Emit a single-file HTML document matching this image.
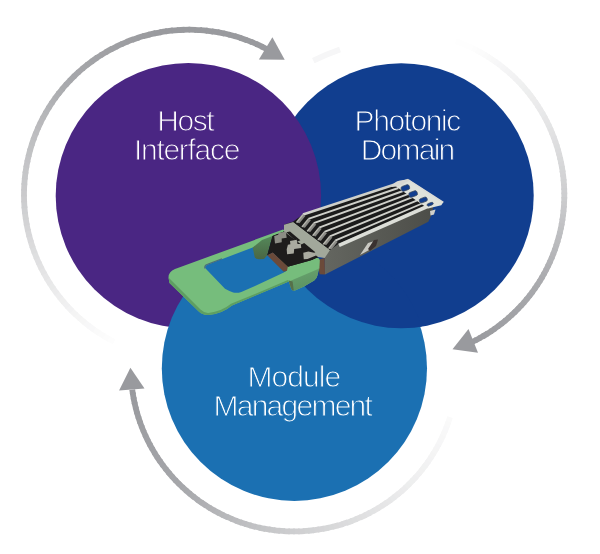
<!DOCTYPE html>
<html><head><meta charset="utf-8"><style>
html,body{margin:0;padding:0;background:#fff;}
svg{display:block;}
text{font-family:"Liberation Sans",sans-serif;fill:#fff;}
</style></head><body>
<svg width="600" height="554" viewBox="0 0 600 554">
<rect width="600" height="554" fill="#fff"/>
<g fill="none" stroke-width="5.8" stroke-linecap="butt">
<path d="M114.09,341.72 A165,165 0 0 1 107.47,338.15" stroke="rgb(253, 253, 253)"/>
<path d="M108.98,339.00 A165,165 0 0 1 102.49,335.20" stroke="rgb(252, 252, 252)"/>
<path d="M103.96,336.10 A165,165 0 0 1 97.61,332.08" stroke="rgb(251, 251, 251)"/>
<path d="M99.05,333.03 A165,165 0 0 1 92.85,328.79" stroke="rgb(250, 250, 250)"/>
<path d="M94.26,329.79 A165,165 0 0 1 88.20,325.33" stroke="rgb(248, 248, 249)"/>
<path d="M89.57,326.38 A165,165 0 0 1 83.68,321.71" stroke="rgb(247, 247, 248)"/>
<path d="M85.01,322.81 A165,165 0 0 1 79.28,317.94" stroke="rgb(246, 246, 246)"/>
<path d="M80.58,319.08 A165,165 0 0 1 75.03,314.01" stroke="rgb(245, 245, 245)"/>
<path d="M76.28,315.20 A165,165 0 0 1 70.91,309.94" stroke="rgb(244, 244, 244)"/>
<path d="M72.12,311.17 A165,165 0 0 1 66.94,305.72" stroke="rgb(242, 242, 243)"/>
<path d="M68.11,307.00 A165,165 0 0 1 63.12,301.37" stroke="rgb(240, 240, 241)"/>
<path d="M64.24,302.68 A165,165 0 0 1 59.45,296.89" stroke="rgb(239, 239, 239)"/>
<path d="M60.53,298.24 A165,165 0 0 1 55.95,292.28" stroke="rgb(237, 237, 238)"/>
<path d="M56.98,293.67 A165,165 0 0 1 52.60,287.55" stroke="rgb(235, 235, 236)"/>
<path d="M53.58,288.97 A165,165 0 0 1 49.43,282.71" stroke="rgb(233, 234, 234)"/>
<path d="M50.36,284.16 A165,165 0 0 1 46.43,277.75" stroke="rgb(232, 232, 233)"/>
<path d="M47.30,279.24 A165,165 0 0 1 43.60,272.70" stroke="rgb(230, 230, 231)"/>
<path d="M44.42,274.22 A165,165 0 0 1 40.95,267.55" stroke="rgb(228, 228, 229)"/>
<path d="M41.72,269.09 A165,165 0 0 1 38.49,262.31" stroke="rgb(226, 226, 227)"/>
<path d="M39.20,263.88 A165,165 0 0 1 36.21,256.98" stroke="rgb(224, 224, 226)"/>
<path d="M36.87,258.58 A165,165 0 0 1 34.12,251.58" stroke="rgb(222, 223, 224)"/>
<path d="M34.72,253.20 A165,165 0 0 1 32.21,246.11" stroke="rgb(220, 221, 222)"/>
<path d="M32.76,247.75 A165,165 0 0 1 30.51,240.58" stroke="rgb(219, 219, 220)"/>
<path d="M31.00,242.24 A165,165 0 0 1 28.99,234.99" stroke="rgb(217, 217, 219)"/>
<path d="M29.43,236.66 A165,165 0 0 1 27.68,229.35" stroke="rgb(215, 215, 217)"/>
<path d="M28.05,231.04 A165,165 0 0 1 26.56,223.67" stroke="rgb(213, 213, 215)"/>
<path d="M26.87,225.37 A165,165 0 0 1 25.65,217.95" stroke="rgb(211, 211, 213)"/>
<path d="M25.90,219.66 A165,165 0 0 1 24.93,212.20" stroke="rgb(209, 210, 211)"/>
<path d="M25.12,213.92 A165,165 0 0 1 24.42,206.43" stroke="rgb(207, 208, 210)"/>
<path d="M24.55,208.16 A165,165 0 0 1 24.11,200.65" stroke="rgb(205, 206, 208)"/>
<path d="M24.18,202.38 A165,165 0 0 1 24.00,194.86" stroke="rgb(204, 204, 206)"/>
<path d="M24.01,196.59 A165,165 0 0 1 24.10,189.07" stroke="rgb(202, 202, 204)"/>
<path d="M24.05,190.80 A165,165 0 0 1 24.40,183.29" stroke="rgb(201, 201, 203)"/>
<path d="M24.28,185.01 A165,165 0 0 1 24.90,177.52" stroke="rgb(199, 200, 202)"/>
<path d="M24.73,179.24 A165,165 0 0 1 25.60,171.77" stroke="rgb(198, 199, 201)"/>
<path d="M25.37,173.48 A165,165 0 0 1 26.51,166.05" stroke="rgb(197, 198, 200)"/>
<path d="M26.22,167.75 A165,165 0 0 1 27.61,160.36" stroke="rgb(196, 196, 199)"/>
<path d="M27.26,162.06 A165,165 0 0 1 28.92,154.72" stroke="rgb(195, 195, 198)"/>
<path d="M28.51,156.40 A165,165 0 0 1 30.42,149.13" stroke="rgb(193, 194, 196)"/>
<path d="M29.95,150.79 A165,165 0 0 1 32.12,143.59" stroke="rgb(192, 193, 195)"/>
<path d="M31.59,145.24 A165,165 0 0 1 34.01,138.12" stroke="rgb(191, 192, 194)"/>
<path d="M33.42,139.74 A165,165 0 0 1 36.09,132.71" stroke="rgb(190, 190, 193)"/>
<path d="M35.45,134.32 A165,165 0 0 1 38.36,127.38" stroke="rgb(188, 188, 191)"/>
<path d="M37.66,128.97 A165,165 0 0 1 40.81,122.14" stroke="rgb(186, 186, 189)"/>
<path d="M40.06,123.69 A165,165 0 0 1 43.45,116.98" stroke="rgb(184, 184, 187)"/>
<path d="M42.64,118.51 A165,165 0 0 1 46.27,111.92" stroke="rgb(182, 183, 185)"/>
<path d="M45.41,113.42 A165,165 0 0 1 49.26,106.97" stroke="rgb(180, 181, 184)"/>
<path d="M48.35,108.43 A165,165 0 0 1 52.42,102.12" stroke="rgb(178, 179, 182)"/>
<path d="M51.46,103.55 A165,165 0 0 1 55.76,97.38" stroke="rgb(176, 177, 180)"/>
<path d="M54.75,98.78 A165,165 0 0 1 59.25,92.76" stroke="rgb(174, 175, 178)"/>
<path d="M58.19,94.13 A165,165 0 0 1 62.91,88.27" stroke="rgb(172, 173, 176)"/>
<path d="M61.80,89.60 A165,165 0 0 1 66.72,83.91" stroke="rgb(170, 171, 174)"/>
<path d="M65.57,85.20 A165,165 0 0 1 70.69,79.69" stroke="rgb(168, 169, 173)"/>
<path d="M69.49,80.94 A165,165 0 0 1 74.80,75.61" stroke="rgb(166, 167, 171)"/>
<path d="M73.56,76.81 A165,165 0 0 1 79.05,71.68" stroke="rgb(165, 166, 170)"/>
<path d="M77.76,72.83 A165,165 0 0 1 83.43,67.89" stroke="rgb(165, 165, 169)"/>
<path d="M82.11,69.00 A165,165 0 0 1 87.95,64.27" stroke="rgb(164, 165, 168)"/>
<path d="M86.59,65.33 A165,165 0 0 1 92.59,60.80" stroke="rgb(163, 164, 167)"/>
<path d="M91.19,61.82 A165,165 0 0 1 97.34,57.50" stroke="rgb(162, 163, 167)"/>
<path d="M95.91,58.47 A165,165 0 0 1 102.22,54.37" stroke="rgb(161, 162, 166)"/>
<path d="M100.75,55.28 A165,165 0 0 1 107.19,51.41" stroke="rgb(161, 161, 165)"/>
<path d="M105.70,52.27 A165,165 0 0 1 112.27,48.62" stroke="rgb(160, 161, 164)"/>
<path d="M110.75,49.44 A165,165 0 0 1 117.45,46.02" stroke="rgb(159, 160, 164)"/>
<path d="M115.89,46.78 A165,165 0 0 1 122.71,43.60" stroke="rgb(158, 159, 163)"/>
<path d="M121.13,44.31 A165,165 0 0 1 128.05,41.37" stroke="rgb(157, 158, 162)"/>
<path d="M126.45,42.02 A165,165 0 0 1 133.47,39.33" stroke="rgb(157, 157, 161)"/>
<path d="M131.85,39.92 A165,165 0 0 1 138.96,37.47" stroke="rgb(156, 157, 161)"/>
<path d="M137.31,38.00 A165,165 0 0 1 144.50,35.81" stroke="rgb(155, 156, 160)"/>
<path d="M142.84,36.29 A165,165 0 0 1 150.11,34.35" stroke="rgb(155, 156, 159)"/>
<path d="M148.43,34.77 A165,165 0 0 1 155.76,33.08" stroke="rgb(154, 155, 159)"/>
<path d="M154.07,33.44 A165,165 0 0 1 161.45,32.02" stroke="rgb(153, 154, 158)"/>
<path d="M159.75,32.31 A165,165 0 0 1 167.18,31.15" stroke="rgb(153, 154, 158)"/>
<path d="M165.47,31.39 A165,165 0 0 1 172.93,30.48" stroke="rgb(153, 154, 158)"/>
<path d="M171.21,30.66 A165,165 0 0 1 178.70,30.02" stroke="rgb(153, 154, 158)"/>
<path d="M176.98,30.14 A165,165 0 0 1 184.49,29.76" stroke="rgb(153, 154, 158)"/>
<path d="M182.76,29.82 A165,165 0 0 1 190.28,29.70" stroke="rgb(153, 154, 158)"/>
<path d="M188.55,29.70 A165,165 0 0 1 196.07,29.85" stroke="rgb(153, 154, 158)"/>
<path d="M194.34,29.79 A165,165 0 0 1 201.85,30.20" stroke="rgb(153, 154, 158)"/>
<path d="M200.13,30.08 A165,165 0 0 1 207.61,30.75" stroke="rgb(153, 154, 158)"/>
<path d="M205.90,30.57 A165,165 0 0 1 213.36,31.51" stroke="rgb(153, 154, 158)"/>
<path d="M211.65,31.26 A165,165 0 0 1 219.07,32.46" stroke="rgb(153, 154, 158)"/>
<path d="M217.37,32.16 A165,165 0 0 1 224.74,33.62" stroke="rgb(153, 154, 158)"/>
<path d="M223.05,33.25 A165,165 0 0 1 230.37,34.97" stroke="rgb(153, 154, 158)"/>
<path d="M228.70,34.55 A165,165 0 0 1 235.95,36.52" stroke="rgb(153, 154, 158)"/>
<path d="M234.30,36.04 A165,165 0 0 1 241.48,38.27" stroke="rgb(153, 154, 158)"/>
<path d="M239.84,37.73 A165,165 0 0 1 246.93,40.21" stroke="rgb(153, 154, 158)"/>
<path d="M245.31,39.61 A165,165 0 0 1 252.32,42.33" stroke="rgb(153, 154, 158)"/>
<path d="M250.72,41.68 A165,165 0 0 1 257.63,44.65" stroke="rgb(153, 154, 158)"/>
<path d="M256.05,43.94 A165,165 0 0 1 262.85,47.15" stroke="rgb(153, 154, 158)"/>
<path d="M261.30,46.38 A165,165 0 0 1 266.46,49.01" stroke="rgb(153, 154, 158)"/>
<path d="M443.27,37.26 A163.3,163.3 0 0 1 449.14,38.96" stroke="rgb(255, 255, 255)"/>
<path d="M447.50,38.46 A163.3,163.3 0 0 1 453.33,40.31" stroke="rgb(255, 255, 255)"/>
<path d="M451.70,39.77 A163.3,163.3 0 0 1 457.48,41.78" stroke="rgb(255, 255, 255)"/>
<path d="M455.87,41.19 A163.3,163.3 0 0 1 461.59,43.35" stroke="rgb(254, 254, 254)"/>
<path d="M459.99,42.73 A163.3,163.3 0 0 1 465.65,45.04" stroke="rgb(254, 254, 254)"/>
<path d="M464.08,44.37 A163.3,163.3 0 0 1 469.67,46.84" stroke="rgb(254, 254, 254)"/>
<path d="M468.11,46.13 A163.3,163.3 0 0 1 473.64,48.74" stroke="rgb(254, 254, 254)"/>
<path d="M472.10,47.99 A163.3,163.3 0 0 1 477.55,50.76" stroke="rgb(253, 253, 253)"/>
<path d="M476.04,49.96 A163.3,163.3 0 0 1 481.41,52.87" stroke="rgb(252, 252, 252)"/>
<path d="M479.92,52.04 A163.3,163.3 0 0 1 485.21,55.09" stroke="rgb(251, 251, 251)"/>
<path d="M483.74,54.22 A163.3,163.3 0 0 1 488.95,57.41" stroke="rgb(250, 250, 250)"/>
<path d="M487.51,56.50 A163.3,163.3 0 0 1 492.63,59.83" stroke="rgb(249, 249, 249)"/>
<path d="M491.21,58.88 A163.3,163.3 0 0 1 496.24,62.35" stroke="rgb(248, 248, 248)"/>
<path d="M494.85,61.36 A163.3,163.3 0 0 1 499.78,64.96" stroke="rgb(247, 247, 248)"/>
<path d="M498.41,63.94 A163.3,163.3 0 0 1 503.25,67.67" stroke="rgb(246, 246, 247)"/>
<path d="M501.91,66.61 A163.3,163.3 0 0 1 506.64,70.48" stroke="rgb(245, 245, 246)"/>
<path d="M505.34,69.38 A163.3,163.3 0 0 1 509.96,73.37" stroke="rgb(244, 244, 245)"/>
<path d="M508.68,72.24 A163.3,163.3 0 0 1 513.20,76.35" stroke="rgb(243, 243, 244)"/>
<path d="M511.95,75.18 A163.3,163.3 0 0 1 516.36,79.42" stroke="rgb(242, 242, 243)"/>
<path d="M515.14,78.22 A163.3,163.3 0 0 1 519.43,82.57" stroke="rgb(241, 241, 242)"/>
<path d="M518.25,81.33 A163.3,163.3 0 0 1 522.42,85.80" stroke="rgb(240, 241, 241)"/>
<path d="M521.27,84.54 A163.3,163.3 0 0 1 525.32,89.11" stroke="rgb(239, 240, 240)"/>
<path d="M524.20,87.82 A163.3,163.3 0 0 1 528.13,92.50" stroke="rgb(238, 239, 239)"/>
<path d="M527.05,91.18 A163.3,163.3 0 0 1 530.84,95.97" stroke="rgb(237, 238, 238)"/>
<path d="M529.80,94.61 A163.3,163.3 0 0 1 533.47,99.50" stroke="rgb(237, 237, 237)"/>
<path d="M532.46,98.12 A163.3,163.3 0 0 1 535.99,103.11" stroke="rgb(236, 236, 236)"/>
<path d="M535.02,101.70 A163.3,163.3 0 0 1 538.42,106.78" stroke="rgb(235, 235, 236)"/>
<path d="M537.49,105.34 A163.3,163.3 0 0 1 540.75,110.51" stroke="rgb(234, 234, 235)"/>
<path d="M539.85,109.06 A163.3,163.3 0 0 1 542.97,114.31" stroke="rgb(233, 233, 234)"/>
<path d="M542.12,112.83 A163.3,163.3 0 0 1 545.10,118.17" stroke="rgb(231, 232, 233)"/>
<path d="M544.28,116.66 A163.3,163.3 0 0 1 547.11,122.08" stroke="rgb(230, 230, 231)"/>
<path d="M546.34,120.55 A163.3,163.3 0 0 1 549.03,126.04" stroke="rgb(229, 229, 230)"/>
<path d="M548.30,124.50 A163.3,163.3 0 0 1 550.83,130.06" stroke="rgb(227, 228, 229)"/>
<path d="M550.14,128.49 A163.3,163.3 0 0 1 552.53,134.12" stroke="rgb(226, 226, 227)"/>
<path d="M551.88,132.54 A163.3,163.3 0 0 1 554.11,138.23" stroke="rgb(225, 225, 226)"/>
<path d="M553.51,136.63 A163.3,163.3 0 0 1 555.59,142.37" stroke="rgb(223, 223, 225)"/>
<path d="M555.03,140.76 A163.3,163.3 0 0 1 556.95,146.56" stroke="rgb(222, 222, 223)"/>
<path d="M556.43,144.93 A163.3,163.3 0 0 1 558.20,150.78" stroke="rgb(220, 221, 222)"/>
<path d="M557.73,149.14 A163.3,163.3 0 0 1 559.33,155.03" stroke="rgb(219, 219, 221)"/>
<path d="M558.91,153.38 A163.3,163.3 0 0 1 560.35,159.32" stroke="rgb(218, 218, 219)"/>
<path d="M559.97,157.65 A163.3,163.3 0 0 1 561.26,163.62" stroke="rgb(216, 217, 218)"/>
<path d="M560.92,161.95 A163.3,163.3 0 0 1 562.04,167.95" stroke="rgb(215, 215, 217)"/>
<path d="M561.75,166.27 A163.3,163.3 0 0 1 562.72,172.30" stroke="rgb(213, 214, 215)"/>
<path d="M562.47,170.61 A163.3,163.3 0 0 1 563.27,176.67" stroke="rgb(212, 212, 214)"/>
<path d="M563.07,174.97 A163.3,163.3 0 0 1 563.70,181.05" stroke="rgb(211, 211, 213)"/>
<path d="M563.55,179.35 A163.3,163.3 0 0 1 564.02,185.44" stroke="rgb(209, 210, 211)"/>
<path d="M563.91,183.74 A163.3,163.3 0 0 1 564.22,189.84" stroke="rgb(208, 208, 210)"/>
<path d="M564.16,188.13 A163.3,163.3 0 0 1 564.30,194.24" stroke="rgb(206, 207, 209)"/>
<path d="M564.28,192.53 A163.3,163.3 0 0 1 564.26,198.64" stroke="rgb(205, 206, 208)"/>
<path d="M564.29,196.93 A163.3,163.3 0 0 1 564.10,203.04" stroke="rgb(203, 204, 206)"/>
<path d="M564.18,201.33 A163.3,163.3 0 0 1 563.83,207.43" stroke="rgb(202, 202, 204)"/>
<path d="M563.95,205.73 A163.3,163.3 0 0 1 563.43,211.82" stroke="rgb(200, 200, 203)"/>
<path d="M563.60,210.12 A163.3,163.3 0 0 1 562.92,216.19" stroke="rgb(198, 199, 201)"/>
<path d="M563.13,214.49 A163.3,163.3 0 0 1 562.29,220.55" stroke="rgb(196, 197, 199)"/>
<path d="M562.55,218.86 A163.3,163.3 0 0 1 561.54,224.88" stroke="rgb(195, 195, 198)"/>
<path d="M561.85,223.20 A163.3,163.3 0 0 1 560.68,229.20" stroke="rgb(193, 193, 196)"/>
<path d="M561.03,227.53 A163.3,163.3 0 0 1 559.70,233.49" stroke="rgb(191, 192, 194)"/>
<path d="M560.09,231.83 A163.3,163.3 0 0 1 558.60,237.75" stroke="rgb(189, 190, 193)"/>
<path d="M559.04,236.10 A163.3,163.3 0 0 1 557.39,241.99" stroke="rgb(188, 188, 191)"/>
<path d="M557.88,240.35 A163.3,163.3 0 0 1 556.07,246.18" stroke="rgb(186, 187, 189)"/>
<path d="M556.60,244.56 A163.3,163.3 0 0 1 554.64,250.35" stroke="rgb(184, 185, 188)"/>
<path d="M555.21,248.73 A163.3,163.3 0 0 1 553.09,254.47" stroke="rgb(182, 183, 186)"/>
<path d="M553.70,252.87 A163.3,163.3 0 0 1 551.43,258.54" stroke="rgb(181, 181, 184)"/>
<path d="M552.09,256.97 A163.3,163.3 0 0 1 549.66,262.58" stroke="rgb(179, 180, 183)"/>
<path d="M550.36,261.01 A163.3,163.3 0 0 1 547.79,266.56" stroke="rgb(177, 178, 181)"/>
<path d="M548.53,265.02 A163.3,163.3 0 0 1 545.80,270.49" stroke="rgb(175, 176, 179)"/>
<path d="M546.59,268.97 A163.3,163.3 0 0 1 543.72,274.36" stroke="rgb(174, 174, 178)"/>
<path d="M544.54,272.86 A163.3,163.3 0 0 1 541.53,278.18" stroke="rgb(172, 173, 176)"/>
<path d="M542.39,276.70 A163.3,163.3 0 0 1 539.23,281.94" stroke="rgb(171, 171, 175)"/>
<path d="M540.14,280.49 A163.3,163.3 0 0 1 536.84,285.63" stroke="rgb(170, 171, 174)"/>
<path d="M537.78,284.20 A163.3,163.3 0 0 1 534.35,289.26" stroke="rgb(169, 170, 173)"/>
<path d="M535.33,287.86 A163.3,163.3 0 0 1 531.76,292.82" stroke="rgb(168, 169, 172)"/>
<path d="M532.78,291.45 A163.3,163.3 0 0 1 529.08,296.31" stroke="rgb(167, 168, 172)"/>
<path d="M530.13,294.96 A163.3,163.3 0 0 1 526.30,299.72" stroke="rgb(166, 167, 171)"/>
<path d="M527.39,298.41 A163.3,163.3 0 0 1 523.43,303.06" stroke="rgb(166, 167, 170)"/>
<path d="M524.56,301.78 A163.3,163.3 0 0 1 520.47,306.32" stroke="rgb(165, 166, 169)"/>
<path d="M521.63,305.07 A163.3,163.3 0 0 1 517.43,309.50" stroke="rgb(164, 165, 168)"/>
<path d="M518.62,308.28 A163.3,163.3 0 0 1 514.30,312.60" stroke="rgb(163, 164, 168)"/>
<path d="M515.53,311.41 A163.3,163.3 0 0 1 511.09,315.61" stroke="rgb(162, 163, 167)"/>
<path d="M512.35,314.45 A163.3,163.3 0 0 1 507.80,318.53" stroke="rgb(162, 163, 166)"/>
<path d="M509.09,317.41 A163.3,163.3 0 0 1 504.43,321.37" stroke="rgb(161, 162, 165)"/>
<path d="M505.75,320.28 A163.3,163.3 0 0 1 500.99,324.11" stroke="rgb(160, 161, 165)"/>
<path d="M502.33,323.06 A163.3,163.3 0 0 1 497.47,326.76" stroke="rgb(159, 160, 164)"/>
<path d="M498.85,325.74 A163.3,163.3 0 0 1 493.89,329.31" stroke="rgb(158, 159, 163)"/>
<path d="M495.29,328.33 A163.3,163.3 0 0 1 490.23,331.76" stroke="rgb(157, 158, 162)"/>
<path d="M491.66,330.82 A163.3,163.3 0 0 1 486.51,334.12" stroke="rgb(157, 158, 161)"/>
<path d="M487.97,333.22 A163.3,163.3 0 0 1 482.73,336.37" stroke="rgb(156, 157, 161)"/>
<path d="M484.21,335.51 A163.3,163.3 0 0 1 478.89,338.53" stroke="rgb(155, 156, 160)"/>
<path d="M480.39,337.70 A163.3,163.3 0 0 1 475.00,340.57" stroke="rgb(154, 155, 159)"/>
<path d="M476.52,339.79 A163.3,163.3 0 0 1 472.59,341.77" stroke="rgb(153, 154, 158)"/>
<path d="M450.04,417.14 A163.4,163.4 0 0 1 447.92,423.41" stroke="rgb(250, 250, 250)"/>
<path d="M448.49,421.79 A163.4,163.4 0 0 1 446.19,428.00" stroke="rgb(249, 249, 249)"/>
<path d="M446.81,426.40 A163.4,163.4 0 0 1 444.32,432.54" stroke="rgb(248, 248, 249)"/>
<path d="M444.98,430.96 A163.4,163.4 0 0 1 442.31,437.02" stroke="rgb(248, 248, 248)"/>
<path d="M443.02,435.46 A163.4,163.4 0 0 1 440.17,441.43" stroke="rgb(247, 247, 247)"/>
<path d="M440.93,439.90 A163.4,163.4 0 0 1 437.90,445.78" stroke="rgb(246, 246, 247)"/>
<path d="M438.71,444.27 A163.4,163.4 0 0 1 435.50,450.06" stroke="rgb(245, 245, 246)"/>
<path d="M436.35,448.58 A163.4,163.4 0 0 1 432.97,454.27" stroke="rgb(245, 245, 245)"/>
<path d="M433.86,452.81 A163.4,163.4 0 0 1 430.32,458.40" stroke="rgb(244, 244, 244)"/>
<path d="M431.25,456.97 A163.4,163.4 0 0 1 427.54,462.45" stroke="rgb(243, 243, 244)"/>
<path d="M428.52,461.05 A163.4,163.4 0 0 1 424.64,466.41" stroke="rgb(242, 242, 243)"/>
<path d="M425.67,465.04 A163.4,163.4 0 0 1 421.63,470.28" stroke="rgb(241, 242, 242)"/>
<path d="M422.69,468.94 A163.4,163.4 0 0 1 418.50,474.06" stroke="rgb(241, 241, 241)"/>
<path d="M419.60,472.76 A163.4,163.4 0 0 1 415.26,477.75" stroke="rgb(240, 240, 241)"/>
<path d="M416.40,476.48 A163.4,163.4 0 0 1 411.91,481.34" stroke="rgb(239, 239, 240)"/>
<path d="M413.09,480.10 A163.4,163.4 0 0 1 408.45,484.82" stroke="rgb(238, 239, 239)"/>
<path d="M409.67,483.62 A163.4,163.4 0 0 1 404.89,488.20" stroke="rgb(237, 238, 238)"/>
<path d="M406.14,487.03 A163.4,163.4 0 0 1 401.23,491.47" stroke="rgb(236, 236, 237)"/>
<path d="M402.51,490.34 A163.4,163.4 0 0 1 397.47,494.63" stroke="rgb(235, 235, 236)"/>
<path d="M398.79,493.54 A163.4,163.4 0 0 1 393.62,497.67" stroke="rgb(234, 234, 235)"/>
<path d="M394.97,496.62 A163.4,163.4 0 0 1 389.68,500.60" stroke="rgb(232, 233, 234)"/>
<path d="M391.07,499.59 A163.4,163.4 0 0 1 385.66,503.41" stroke="rgb(231, 231, 232)"/>
<path d="M387.07,502.44 A163.4,163.4 0 0 1 381.55,506.09" stroke="rgb(230, 230, 231)"/>
<path d="M382.99,505.17 A163.4,163.4 0 0 1 377.36,508.65" stroke="rgb(229, 229, 230)"/>
<path d="M378.83,507.78 A163.4,163.4 0 0 1 373.10,511.09" stroke="rgb(228, 228, 229)"/>
<path d="M374.59,510.26 A163.4,163.4 0 0 1 368.77,513.39" stroke="rgb(226, 227, 228)"/>
<path d="M370.28,512.61 A163.4,163.4 0 0 1 364.37,515.57" stroke="rgb(225, 225, 227)"/>
<path d="M365.91,514.83 A163.4,163.4 0 0 1 359.90,517.61" stroke="rgb(224, 224, 225)"/>
<path d="M361.46,516.91 A163.4,163.4 0 0 1 355.38,519.51" stroke="rgb(223, 223, 224)"/>
<path d="M356.96,518.87 A163.4,163.4 0 0 1 350.80,521.28" stroke="rgb(221, 222, 223)"/>
<path d="M352.40,520.68 A163.4,163.4 0 0 1 346.17,522.91" stroke="rgb(220, 221, 222)"/>
<path d="M347.79,522.36 A163.4,163.4 0 0 1 341.49,524.41" stroke="rgb(219, 219, 221)"/>
<path d="M343.13,523.90 A163.4,163.4 0 0 1 336.78,525.76" stroke="rgb(218, 218, 220)"/>
<path d="M338.43,525.30 A163.4,163.4 0 0 1 332.02,526.96" stroke="rgb(217, 217, 218)"/>
<path d="M333.68,526.56 A163.4,163.4 0 0 1 327.23,528.03" stroke="rgb(215, 216, 217)"/>
<path d="M328.90,527.67 A163.4,163.4 0 0 1 322.41,528.95" stroke="rgb(214, 215, 216)"/>
<path d="M324.09,528.64 A163.4,163.4 0 0 1 317.56,529.72" stroke="rgb(213, 213, 215)"/>
<path d="M319.25,529.47 A163.4,163.4 0 0 1 312.69,530.35" stroke="rgb(212, 212, 214)"/>
<path d="M314.39,530.15 A163.4,163.4 0 0 1 307.81,530.83" stroke="rgb(210, 211, 213)"/>
<path d="M309.51,530.68 A163.4,163.4 0 0 1 302.91,531.17" stroke="rgb(209, 210, 211)"/>
<path d="M304.62,531.07 A163.4,163.4 0 0 1 298.01,531.36" stroke="rgb(208, 208, 210)"/>
<path d="M299.72,531.31 A163.4,163.4 0 0 1 293.10,531.40" stroke="rgb(207, 207, 209)"/>
<path d="M294.81,531.40 A163.4,163.4 0 0 1 288.19,531.29" stroke="rgb(205, 206, 208)"/>
<path d="M289.90,531.34 A163.4,163.4 0 0 1 283.29,531.04" stroke="rgb(204, 204, 206)"/>
<path d="M285.00,531.14 A163.4,163.4 0 0 1 278.40,530.63" stroke="rgb(202, 203, 205)"/>
<path d="M280.10,530.79 A163.4,163.4 0 0 1 273.52,530.09" stroke="rgb(201, 201, 203)"/>
<path d="M275.22,530.29 A163.4,163.4 0 0 1 268.66,529.39" stroke="rgb(199, 200, 202)"/>
<path d="M270.35,529.65 A163.4,163.4 0 0 1 263.82,528.55" stroke="rgb(198, 198, 200)"/>
<path d="M265.51,528.86 A163.4,163.4 0 0 1 259.02,527.57" stroke="rgb(196, 197, 199)"/>
<path d="M260.69,527.93 A163.4,163.4 0 0 1 254.24,526.44" stroke="rgb(194, 195, 197)"/>
<path d="M255.90,526.85 A163.4,163.4 0 0 1 249.50,525.17" stroke="rgb(193, 193, 196)"/>
<path d="M251.15,525.63 A163.4,163.4 0 0 1 244.80,523.75" stroke="rgb(191, 192, 194)"/>
<path d="M246.43,524.26 A163.4,163.4 0 0 1 240.14,522.20" stroke="rgb(190, 190, 193)"/>
<path d="M241.76,522.76 A163.4,163.4 0 0 1 235.54,520.51" stroke="rgb(188, 189, 191)"/>
<path d="M237.14,521.11 A163.4,163.4 0 0 1 230.98,518.68" stroke="rgb(187, 187, 190)"/>
<path d="M232.56,519.33 A163.4,163.4 0 0 1 226.49,516.71" stroke="rgb(185, 186, 188)"/>
<path d="M228.05,517.41 A163.4,163.4 0 0 1 222.05,514.61" stroke="rgb(183, 184, 187)"/>
<path d="M223.59,515.36 A163.4,163.4 0 0 1 217.68,512.37" stroke="rgb(182, 183, 185)"/>
<path d="M219.19,513.17 A163.4,163.4 0 0 1 213.38,510.01" stroke="rgb(180, 181, 184)"/>
<path d="M214.87,510.85 A163.4,163.4 0 0 1 209.15,507.52" stroke="rgb(179, 179, 182)"/>
<path d="M210.61,508.40 A163.4,163.4 0 0 1 205.00,504.90" stroke="rgb(177, 178, 181)"/>
<path d="M206.43,505.83 A163.4,163.4 0 0 1 200.92,502.16" stroke="rgb(176, 176, 180)"/>
<path d="M202.33,503.13 A163.4,163.4 0 0 1 196.94,499.30" stroke="rgb(174, 175, 178)"/>
<path d="M198.32,500.31 A163.4,163.4 0 0 1 193.04,496.32" stroke="rgb(172, 173, 177)"/>
<path d="M194.39,497.37 A163.4,163.4 0 0 1 189.23,493.22" stroke="rgb(171, 172, 175)"/>
<path d="M190.55,494.31 A163.4,163.4 0 0 1 185.52,490.01" stroke="rgb(169, 170, 174)"/>
<path d="M186.80,491.14 A163.4,163.4 0 0 1 181.90,486.69" stroke="rgb(168, 169, 172)"/>
<path d="M183.15,487.86 A163.4,163.4 0 0 1 178.39,483.27" stroke="rgb(166, 167, 171)"/>
<path d="M179.60,484.47 A163.4,163.4 0 0 1 174.98,479.74" stroke="rgb(165, 166, 169)"/>
<path d="M176.15,480.98 A163.4,163.4 0 0 1 171.67,476.11" stroke="rgb(164, 165, 169)"/>
<path d="M172.81,477.38 A163.4,163.4 0 0 1 168.48,472.38" stroke="rgb(164, 165, 168)"/>
<path d="M169.58,473.69 A163.4,163.4 0 0 1 165.40,468.55" stroke="rgb(163, 164, 168)"/>
<path d="M166.46,469.90 A163.4,163.4 0 0 1 162.44,464.64" stroke="rgb(163, 164, 167)"/>
<path d="M163.46,466.01 A163.4,163.4 0 0 1 159.60,460.64" stroke="rgb(162, 163, 167)"/>
<path d="M160.58,462.04 A163.4,163.4 0 0 1 156.88,456.56" stroke="rgb(162, 162, 166)"/>
<path d="M157.81,457.99 A163.4,163.4 0 0 1 154.28,452.39" stroke="rgb(161, 162, 166)"/>
<path d="M155.17,453.85 A163.4,163.4 0 0 1 151.81,448.15" stroke="rgb(160, 161, 165)"/>
<path d="M152.66,449.64 A163.4,163.4 0 0 1 149.46,443.84" stroke="rgb(160, 161, 165)"/>
<path d="M150.27,445.35 A163.4,163.4 0 0 1 147.25,439.46" stroke="rgb(159, 160, 164)"/>
<path d="M148.01,440.99 A163.4,163.4 0 0 1 145.17,435.01" stroke="rgb(159, 160, 164)"/>
<path d="M145.88,436.57 A163.4,163.4 0 0 1 143.23,430.50" stroke="rgb(158, 159, 163)"/>
<path d="M143.89,432.08 A163.4,163.4 0 0 1 141.42,425.94" stroke="rgb(158, 159, 162)"/>
<path d="M142.03,427.54 A163.4,163.4 0 0 1 139.75,421.33" stroke="rgb(157, 158, 162)"/>
<path d="M140.31,422.94 A163.4,163.4 0 0 1 138.21,416.66" stroke="rgb(157, 158, 161)"/>
<path d="M138.73,418.29 A163.4,163.4 0 0 1 136.82,411.96" stroke="rgb(156, 157, 161)"/>
<path d="M137.29,413.60 A163.4,163.4 0 0 1 135.57,407.21" stroke="rgb(155, 156, 160)"/>
<path d="M135.99,408.87 A163.4,163.4 0 0 1 134.47,402.43" stroke="rgb(155, 156, 160)"/>
<path d="M134.84,404.10 A163.4,163.4 0 0 1 133.51,397.62" stroke="rgb(154, 155, 159)"/>
<path d="M133.83,399.30 A163.4,163.4 0 0 1 132.69,392.78" stroke="rgb(154, 155, 159)"/>
<path d="M132.96,394.47 A163.4,163.4 0 0 1 132.24,389.61" stroke="rgb(153, 154, 158)"/>
<path d="M313.3,60.6 Q326,54.5 340,49.6" stroke="#f6f6f7"/>
</g>
<polygon points="272.4,37.2 258.9,59.4 284.7,59.7" fill="#999a9e"/>
<polygon points="468.5,329.1 452.5,349.2 478,352.7" fill="#999a9e"/>
<polygon points="130.4,367.7 119.1,390.6 144.5,388.6" fill="#999a9e"/>
<circle cx="401.2" cy="195.7" r="132.5" fill="#113e8f"/>
<circle cx="188.4" cy="195.7" r="132.7" fill="#4a2683"/>
<circle cx="294.4" cy="368.3" r="132.6" fill="#1b70b2"/>
<defs><mask id="dm"><rect width="600" height="554" fill="#000"/><circle cx="294.4" cy="368.3" r="134" fill="#fff"/><circle cx="188.4" cy="195.7" r="132.7" fill="#000"/></mask></defs>
<circle cx="401.2" cy="195.7" r="132.5" fill="#113e8f" mask="url(#dm)"/>
<g font-size="30" text-anchor="middle" stroke-width="1.0" opacity="0.999">
<g stroke="#4a2683"><text x="185.9" y="131.1" textLength="57.20" lengthAdjust="spacing">Host</text>
<text x="187.2" y="159.7" textLength="106.40" lengthAdjust="spacing">Interface</text></g>
<g stroke="#113e8f"><text x="407.9" y="131.1" textLength="106.60" lengthAdjust="spacing">Photonic</text>
<text x="408.0" y="159.9" textLength="94.60" lengthAdjust="spacing">Domain</text></g>
<g stroke="#1b70b2"><text x="294.4" y="387.3" textLength="93.70" lengthAdjust="spacing">Module</text>
<text x="293.2" y="415.9" textLength="159.40" lengthAdjust="spacing">Management</text></g>
</g>
<path d="M283,229.5 L175,269 Q168.5,271.5 168.5,277.5 L169.5,283 L198.5,311.3 Q203,315.5 208.5,315 Q222,313.8 232,305.5 L255,295.8 L288.9,281.5 L291.3,289 Q293,291.2 295.5,290.3 L304,286.5 L314.2,280.5 Q316.8,278.5 317.4,275.5 L319.8,260.6 Q319.5,258.5 317.3,258.1 L300,240 Z" fill="#76bd7c"/>
<path d="M168.5,277.5 L169.5,283 L198.5,311.3 Q203,315.5 208.5,315 Q222,313.8 232,305.5 L255,295.8 L288.9,281.5 L288.5,279.8 L255,293.9 L231,303.8 Q221.5,311.6 208.5,313 Q204.5,313.3 200.5,309.5 L171.5,280.5 Z" fill="#5e9e62"/>
<path d="M207,265 L225,258 L252.7,247.5 L270,241 L286,271.4 L255,285.9 L241.3,291.9 Q237,293.3 233.2,292.4 Q229,291 225,288.7 L207,270 Q203.5,267 207,265 Z" fill="#1b70b2"/>
<path d="M205,268.5 Q204,265.5 207.5,264.3 L222,258.8" fill="none" stroke="#3a4a7a" stroke-width="1.2" opacity="0.7"/>
<defs><linearGradient id="ulb" x1="0" y1="0" x2="0" y2="1"><stop offset="0" stop-color="#54885a"/><stop offset="1" stop-color="#4a6644"/></linearGradient><linearGradient id="llb" x1="0" y1="0" x2="0.3" y2="1"><stop offset="0" stop-color="#68a46e"/><stop offset="1" stop-color="#5c9263"/></linearGradient><linearGradient id="sf" x1="0" y1="0" x2="1" y2="0"><stop offset="0" stop-color="#646660"/><stop offset="1" stop-color="#4c4d48"/></linearGradient></defs>
<path d="M252.7,247.5 L254.7,257.3 Q256,259.5 259.3,259.3 L264,259 L267.3,255.3 L272.5,236 L262,240 Z" fill="url(#ulb)"/>
<path d="M272.5,236 L284,231.5 L284,224.7 L293.3,221.5 L303,214.5 L408.5,180 L430,206.5 L340.5,245 L332.7,252 L331.3,256.7 L318,257 L312,260 L287.8,266.7 L272.8,252.5 L267.3,255.3 Z" fill="#1c1c1c"/>
<path d="M272.5,236 L284,231.5 L320,256.5 L312,260 L287.8,266.7 L272.8,252.5 L267.3,255.3 Z" fill="#1e1c1c"/>
<path d="M267.3,255.3 L272.8,252.5 L287.8,266.7 L287,270.8 L283.7,271.7 L268.7,256.7 Z" fill="#6b4a3a"/>
<path d="M284,224.7 L293.3,222 L332.7,252 L331.3,256.7 L324.7,258 L318,257 L284,231.5 Z" fill="#a2a89b"/>
<path d="M286.3,232.3 L290,231.4 L300.4,240.2 L296.7,241.8 Z" fill="#1e1c1c"/>
<path d="M300.8,244.8 L304.2,243.1 L315.4,252.3 L311.7,253.9 Z" fill="#1e1c1c"/>
<path d="M274.2,236 L278.3,234.75 L278.3,232.7 L285.8,231.8 L286.7,237.7 L281.7,238.5 L281.7,242.25 L275,243.5 Z" fill="#8d8d85"/>
<path d="M290,241 L296.7,239.75 L297.5,243.9 L300.8,243.9 L301.25,248.1 L294.2,248.9 L293.75,253.5 L287.1,254.3 L286.7,249.3 L287.9,244.75 L290.4,244.3 Z" fill="#aaaaa0"/>
<path d="M303.3,252.7 L308.3,251.4 L314.2,252.7 L316,255.5 L307.5,258.9 L303.75,259.3 Z" fill="#aaaaa0"/>
<path d="M293.3,222 L303,214.5 L408.5,180.0 L430,205.3 L340.5,245.0 L332.7,252 Z" fill="#1b1b1b"/>
<line x1="303.0" y1="214.5" x2="408.5" y2="180.0" stroke="#cfd0ca" stroke-width="2.6"/>
<path d="M303.0,214.5 L296.5,222.5 L299.5,223.3 L305.6,215.7 Z" fill="#8a8a85"/>
<line x1="303.0" y1="214.5" x2="296.5" y2="222.5" stroke="#b8b8b0" stroke-width="1.4"/>
<line x1="308.4" y1="218.9" x2="398.3" y2="188.0" stroke="#cfd0ca" stroke-width="1.9"/>
<path d="M308.4,218.9 L301.9,226.9 L304.9,227.7 L311.0,220.1 Z" fill="#8a8a85"/>
<line x1="308.4" y1="218.9" x2="301.9" y2="226.9" stroke="#b8b8b0" stroke-width="1.4"/>
<line x1="313.7" y1="223.2" x2="403.0" y2="191.0" stroke="#cfd0ca" stroke-width="1.9"/>
<path d="M313.7,223.2 L307.2,231.2 L310.2,232.0 L316.3,224.4 Z" fill="#8a8a85"/>
<line x1="313.7" y1="223.2" x2="307.2" y2="231.2" stroke="#b8b8b0" stroke-width="1.4"/>
<line x1="319.1" y1="227.6" x2="407.8" y2="194.1" stroke="#cfd0ca" stroke-width="1.9"/>
<path d="M319.1,227.6 L312.6,235.6 L315.6,236.4 L321.7,228.8 Z" fill="#8a8a85"/>
<line x1="319.1" y1="227.6" x2="312.6" y2="235.6" stroke="#b8b8b0" stroke-width="1.4"/>
<line x1="324.4" y1="231.9" x2="412.5" y2="197.2" stroke="#cfd0ca" stroke-width="1.9"/>
<path d="M324.4,231.9 L317.9,239.9 L320.9,240.7 L327.0,233.1 Z" fill="#8a8a85"/>
<line x1="324.4" y1="231.9" x2="317.9" y2="239.9" stroke="#b8b8b0" stroke-width="1.4"/>
<line x1="329.8" y1="236.3" x2="417.3" y2="200.4" stroke="#cfd0ca" stroke-width="1.9"/>
<path d="M329.8,236.3 L323.3,244.3 L326.3,245.1 L332.4,237.5 Z" fill="#8a8a85"/>
<line x1="329.8" y1="236.3" x2="323.3" y2="244.3" stroke="#b8b8b0" stroke-width="1.4"/>
<line x1="335.1" y1="240.6" x2="422.1" y2="203.5" stroke="#cfd0ca" stroke-width="1.9"/>
<path d="M335.1,240.6 L328.6,248.6 L331.6,249.4 L337.7,241.8 Z" fill="#8a8a85"/>
<line x1="335.1" y1="240.6" x2="328.6" y2="248.6" stroke="#b8b8b0" stroke-width="1.4"/>
<line x1="340.5" y1="245.0" x2="427.0" y2="206.6" stroke="#cfd0ca" stroke-width="1.9"/>
<path d="M339,243.5 L434,202.5 L432,214 L428.3,221.7 L325,274.5 L324.7,258 L330,250 Z" fill="url(#sf)"/>
<line x1="339" y1="245.3" x2="434" y2="203.5" stroke="#dcded8" stroke-width="3.6"/>
<path d="M317.7,259.7 L324.7,258 L325,274.5 L319.5,274.3 Z" fill="#6b4a3a"/>
<path d="M396,186.5 L408.7,179.7 L443.3,202.3 L441.3,205.2 L434,207 L428,208.5 Z" fill="#dfe2db"/>
<rect x="401.1" y="185.5" width="8.5" height="5" rx="1.8" transform="rotate(-20 405.3 188)" fill="#113e8f" stroke="#3b4a5e" stroke-width="0.7"/>
<rect x="408.9" y="191.5" width="8.5" height="5" rx="1.8" transform="rotate(-20 413.2 194)" fill="#113e8f" stroke="#3b4a5e" stroke-width="0.7"/>
<rect x="419.3" y="197.8" width="8" height="4.4" rx="1.8" transform="rotate(-20 423.3 200)" fill="#113e8f" stroke="#3b4a5e" stroke-width="0.7"/>
<rect x="426.9" y="202.9" width="6.5" height="2.6" rx="1.8" transform="rotate(-20 430.2 204.2)" fill="#113e8f" stroke="#3b4a5e" stroke-width="0.7"/>
<path d="M391,187 Q394,181.5 400,180.5 L408.7,179.2 L410,181 Q405,182 403,184.5 L397,186.5 Z" fill="#d8d8d3"/>
<line x1="408.7" y1="180.2" x2="443.3" y2="202.3" stroke="#dcdcd7" stroke-width="1.6"/>
<path d="M430,211 L435.5,209.5 L434,214.5 L430.5,215.5 Z" fill="#d0d0cb"/>
<path d="M360,255 L368,243 L373,241.5 L371,249 Z" fill="#c9c9c2"/>
<path d="M368,249 L374,240 L378,239.5 L376,246 L370,251 Z" fill="#3a3230"/>
<path d="M284,272.5 L317.3,258.1 Q319.5,258.5 319.8,260.6 L319.4,268.6 L288.9,281.5 Z" fill="#76bd7c"/>
<path d="M288.9,281.5 L319.4,268.6 L317.4,275.5 Q316.8,278.5 314.2,280.5 L304,286.5 L295.5,290.3 Q293,291.2 291.3,289 Z" fill="url(#llb)"/>
<path d="M288.6,280.5 L291.3,289 Q292.3,290.6 293.8,290.6 L292.6,281.5 Z" fill="#56704a"/>
</svg>
</body></html>
